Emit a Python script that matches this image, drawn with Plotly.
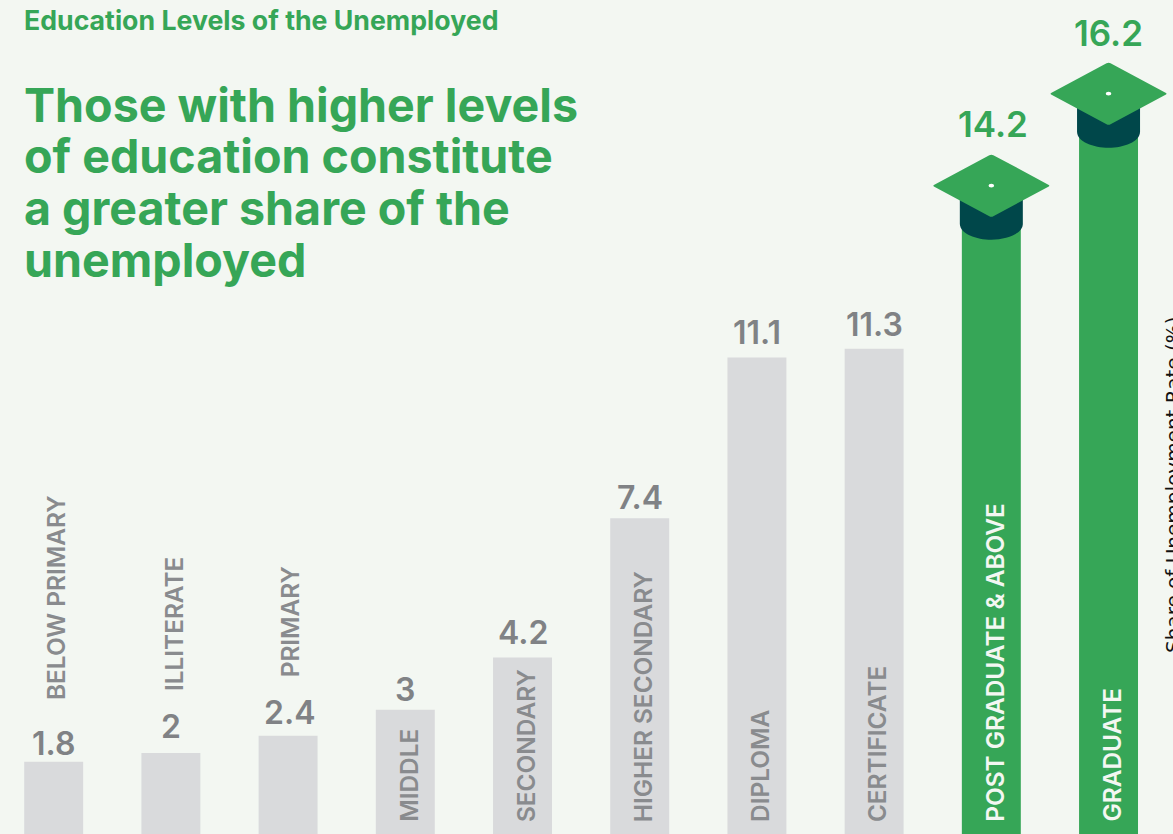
import plotly.graph_objects as go

categories = ["BELOW PRIMARY", "ILLITERATE", "PRIMARY", "MIDDLE", "SECONDARY",
              "HIGHER SECONDARY", "DIPLOMA", "CERTIFICATE",
              "POST GRADUATE & ABOVE", "GRADUATE"]
values = [1.8, 2, 2.4, 3, 4.2, 7.4, 11.1, 11.3, 14.2, 16.2]
value_labels = ["1.8", "2", "2.4", "3", "4.2", "7.4", "11.1", "11.3", "14.2", "16.2"]
heading = "Education Levels of the Unemployed"
title_lines = ["Those with higher levels", "of education constitute",
               "a greater share of the", "unemployed"]
side_label = "Share of Unemployment Rate (%)"

WIDTH, HEIGHT = 1173, 834
BG = "#f3f7f2"
GREEN = "#36a657"
GREY_BAR = "#d9dadc"
GREY_TEXT = "#808285"
GREY_CAT = "#898b8e"
TEAL = "#00474a"
FONT = "Inter"

highlighted = {"POST GRADUATE & ABOVE", "GRADUATE"}
# categories whose name sits above the value label instead of inside the bar
outside = {"BELOW PRIMARY": (60, 3), "ILLITERATE": (60, 3), "PRIMARY": (56, 2)}
# height of the mortarboard centre above its bar's top, in pixels
cap_lift = {"POST GRADUATE & ABOVE": 37, "GRADUATE": 42}
# gap between each bar (or cap) top and its value label, in pixels
label_gaps = [-3, 5, 2, -1, 3, -1, 3, 3, 76, 80]
label_nudges = [0, 0, 1, 0, 0, 0, 0, 0, 2, 0]

fig = go.Figure(go.Bar(
    x=categories, y=values,
    marker=dict(color=[GREEN if c in highlighted else GREY_BAR for c in categories],
                line_width=0),
    width=0.503, hoverinfo="skip",
))


def page_text(text, px, py, size, color, weight=700, family=FONT, **kw):
    fig.add_annotation(text=text, x=px / WIDTH, y=1 - py / HEIGHT, xref="paper", yref="paper",
                       showarrow=False, font=dict(family=family, size=size, color=color, weight=weight),
                       **kw)


page_text(heading, 22, 20, 26.7, GREEN, xanchor="left", yanchor="middle")
for line, py in zip(title_lines, [104.5, 156.5, 207.5, 259.5]):
    page_text(line, 21.5, py, 46.6, GREEN, xanchor="left", yanchor="middle")
page_text(side_label, 1173, 485, 20, "#111111", weight=400, family="DejaVu Sans",
          textangle=-90, xanchor="center", yanchor="middle")

for i, (cat, val, lab, gap, nudge) in enumerate(zip(categories, values, value_labels,
                                                    label_gaps, label_nudges)):
    strong = cat in highlighted
    lift = cap_lift.get(cat)
    # value label on top of the bar, or on top of the cap
    fig.add_annotation(x=i, y=val, text=lab, showarrow=False, yanchor="bottom",
                       yshift=gap, xshift=nudge,
                       font=dict(family=FONT, size=35 if strong else 32, weight=600,
                                 color=GREEN if strong else GREY_TEXT))
    # category name, rotated
    if cat in outside:
        shift, dx = outside[cat]
        fig.add_annotation(x=i, y=val, text=cat, showarrow=False, textangle=-90,
                           yanchor="bottom", yshift=shift, xshift=dx,
                           font=dict(family=FONT, size=24.4, weight=600, color=GREY_CAT))
    else:
        fig.add_annotation(x=i, y=10 / HEIGHT, yref="paper", text=cat, showarrow=False,
                           textangle=-90, yanchor="bottom", xshift=3,
                           font=dict(family=FONT, size=24.4, weight=600,
                                     color="#f3f7f2" if strong else GREY_CAT))
    if strong:
        common = dict(xref="x", yref="y", xsizemode="pixel", ysizemode="pixel",
                      xanchor=i, yanchor=val, layer="above", line_width=0)
        y = lambda v: v + lift
        fig.add_shape(type="path", fillcolor=TEAL, **common,
                      path=f"M -31.5,{y(-10)} L 31.5,{y(-10)} L 31.5,{y(-38)} "
                           f"C 31.5,{y(-48)} 15,{y(-54)} 0,{y(-54)} "
                           f"C -15,{y(-54)} -31.5,{y(-48)} -31.5,{y(-38)} Z")
        fig.add_shape(type="path", fillcolor=GREEN, **common,
                      path=f"M -57,{y(1)} L -2,{y(30.5)} Q 0,{y(31.5)} 2,{y(30.5)} L 57,{y(1)} "
                           f"Q 59,{y(0)} 57,{y(-1)} L 2,{y(-30.5)} Q 0,{y(-31.5)} -2,{y(-30.5)} "
                           f"L -57,{y(-1)} Q -59,{y(0)} -57,{y(1)} Z")
        fig.add_shape(type="circle", fillcolor="#ffffff", **common,
                      x0=-2.8, x1=2.8, y0=y(-1.8), y1=y(1.8))

fig.update_layout(
    width=WIDTH, height=HEIGHT, margin=dict(l=0, r=0, t=0, b=0),
    paper_bgcolor=BG, plot_bgcolor=BG, showlegend=False,
    xaxis=dict(visible=False, range=[-0.458, 9.55], categoryorder="array",
               categoryarray=categories),
    yaxis=dict(visible=False, range=[0.14, 19.32]),
)
fig.write_html("out.html", config=dict(displayModeBar=False))
